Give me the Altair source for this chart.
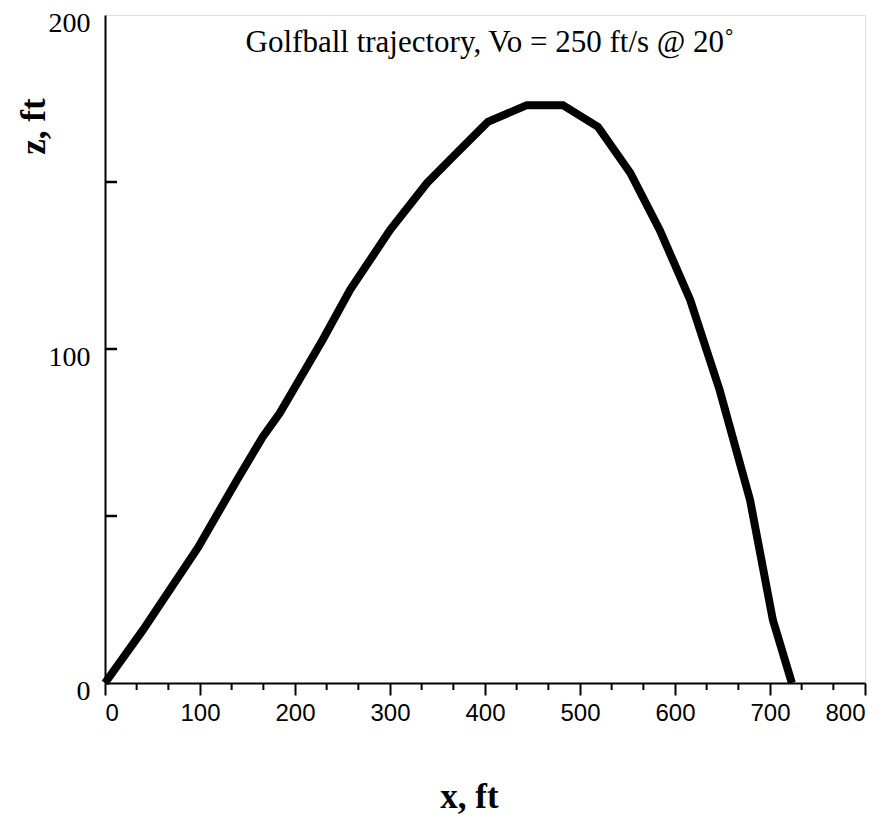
import altair as alt
import pandas as pd

# Trajectory
x_ft = [0, 40, 98, 139, 166, 184, 229, 258, 300, 339, 366, 403, 444, 482, 519, 553, 584, 616, 647, 679, 703, 723]
z_ft = [0, 15.9, 40.6, 60.8, 73.7, 80.8, 102.7, 117.7, 135.6, 149.7, 157.5, 168, 173, 173, 166.5, 152.7, 135.6, 114.7, 87.7, 54.8, 18.9, 0]

x_major_ticks = [0, 100, 200, 300, 400, 500, 600, 700, 800]
x_minor_ticks = [33.3, 66.7, 133.3, 166.7, 233.3, 266.7, 333.3, 366.7, 433.3, 466.7,
                 533.3, 566.7, 633.3, 666.7, 733.3, 766.7]
y_labels = [0, 100, 200]
y_inner_ticks = [50, 100, 150]

title_text = "Golfball trajectory, Vo = 250 ft/s @ 20˚"
x_title = "x, ft"
y_title = "z,  ft"

SERIF = "Liberation Serif, Times New Roman, serif"
SANS = "Liberation Sans, Arial, sans-serif"

traj = pd.DataFrame({"x": x_ft, "z": z_ft, "i": list(range(len(x_ft)))})
minor = pd.DataFrame({"x": x_minor_ticks})
yin = pd.DataFrame({"z": y_inner_ticks})

xscale = alt.Scale(domain=[0, 800], nice=False, zero=False)
yscale = alt.Scale(domain=[0, 200], nice=False, zero=False)

xaxis = alt.Axis(
    values=x_major_ticks, title=x_title, grid=False,
    tickSize=12, tickWidth=2, tickColor="black",
    domainColor="black", domainWidth=2,
    labelFont=SANS, labelFontSize=24, labelColor="black", labelPadding=6,
    titleFont=SERIF, titleFontSize=35, titleFontWeight="bold", titleColor="black",
    titleX=364, titleY=124, titleBaseline="alphabetic", titleAlign="center",
)
yaxis = alt.Axis(
    values=y_labels, title=y_title, grid=False, ticks=False,
    domainColor="black", domainWidth=2,
    labelFont=SERIF, labelFontSize=28, labelColor="black", labelPadding=15, labelOffset=8,
    titleFont=SERIF, titleFontSize=35, titleFontWeight="bold", titleColor="black",
    titleAngle=-90, titleX=-61, titleY=111, titleBaseline="alphabetic", titleAlign="center",
)

line = alt.Chart(traj).mark_line(color="black", strokeWidth=8, strokeJoin="miter").encode(
    x=alt.X("x:Q", scale=xscale, axis=xaxis),
    y=alt.Y("z:Q", scale=yscale, axis=yaxis),
    order="i:Q",
)

minor_ticks = alt.Chart(minor).mark_rule(color="black", strokeWidth=2).encode(
    x=alt.X("x:Q", scale=xscale),
    y=alt.value(668),
    y2=alt.value(675),
)

inner_ticks = alt.Chart(yin).mark_rule(color="black", strokeWidth=2.5).encode(
    y=alt.Y("z:Q", scale=yscale),
    x=alt.value(0),
    x2=alt.value(12),
)

label = alt.Chart(pd.DataFrame({"t": [title_text]})).mark_text(
    font=SERIF, fontSize=31, color="black", align="center", baseline="alphabetic"
).encode(
    x=alt.value(385), y=alt.value(37), text="t:N"
)

chart = alt.layer(line, minor_ticks, inner_ticks, label).properties(
    width=760, height=668,
    autosize=alt.AutoSizeParams(type="none"),
    padding={"left": 97, "top": 7, "right": 17, "bottom": 131},
).configure_view(stroke="black", strokeWidth=2).configure(background="white")

chart.save("out.html", embed_options={"renderer": "svg", "actions": False})
